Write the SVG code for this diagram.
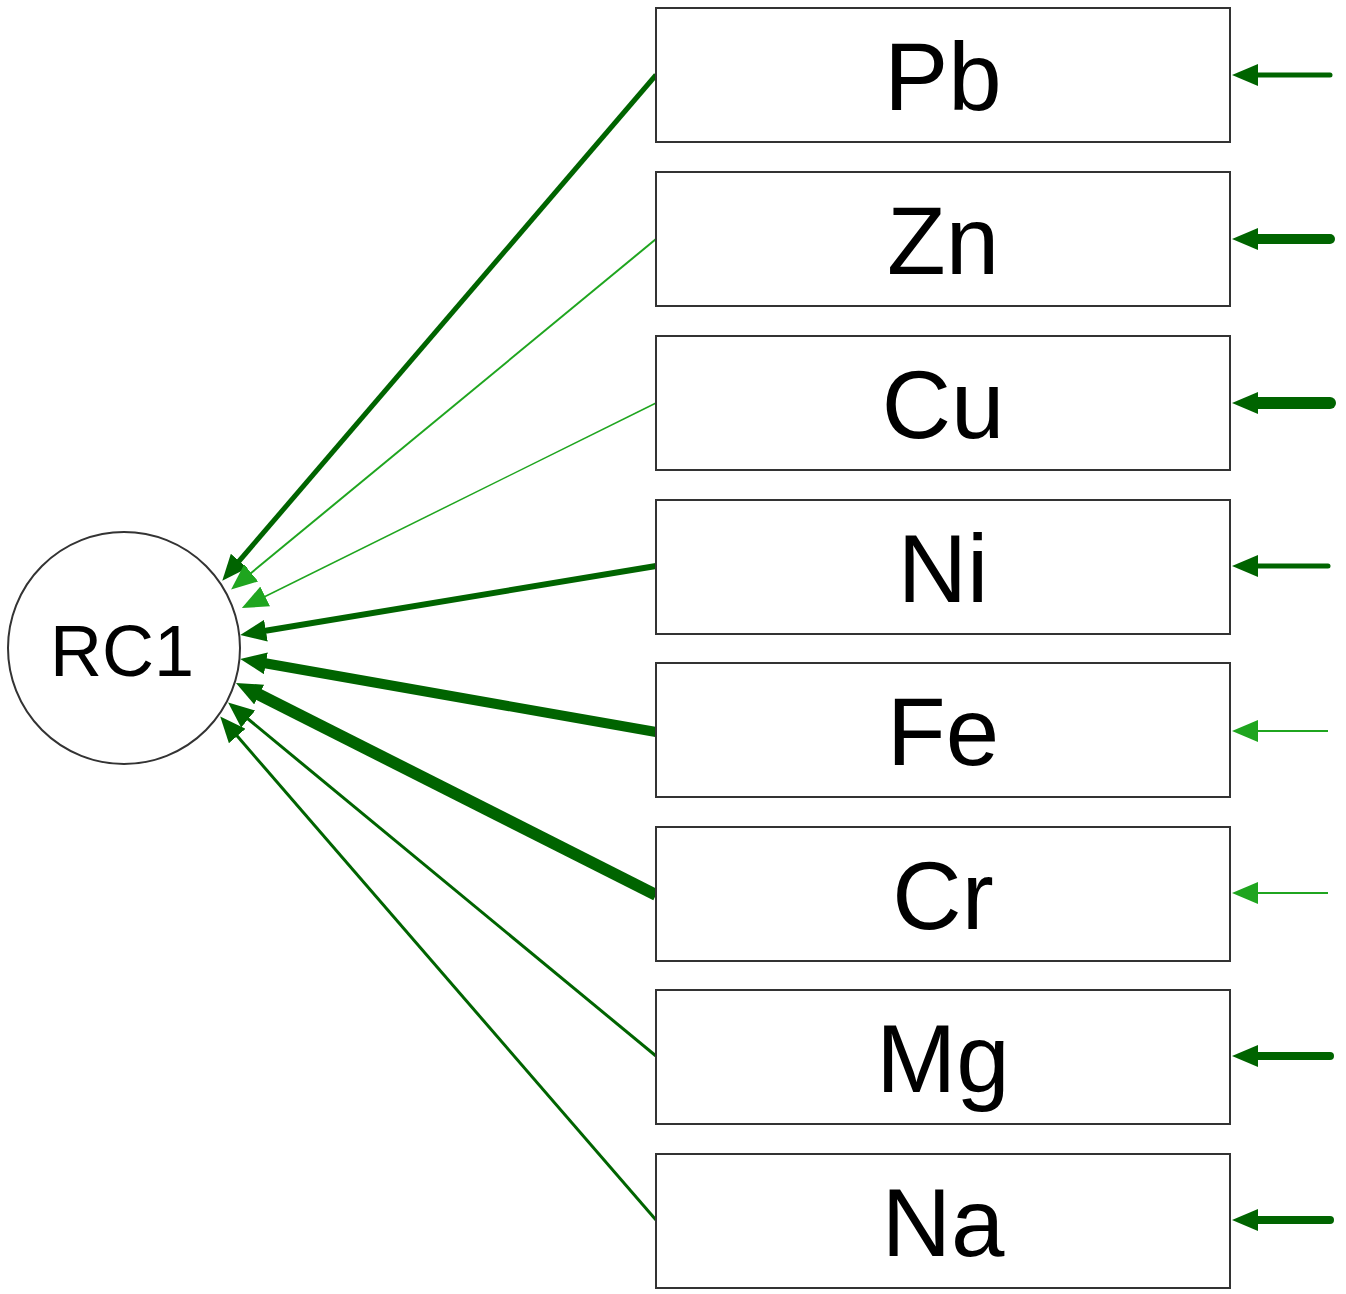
<svg xmlns="http://www.w3.org/2000/svg" width="1346" height="1294" viewBox="0 0 1346 1294">
<style>
.box{fill:#fff;stroke:#333;stroke-width:2}
.lbl{font-family:"Liberation Sans",Arial,sans-serif;font-size:96px;text-anchor:middle;fill:#000}
.d{stroke:#006400;fill:none}
.l{stroke:#1fa51f;fill:none}
</style>
<defs>
<marker id="ad" markerUnits="userSpaceOnUse" markerWidth="26" markerHeight="22" refX="8" refY="11" orient="auto"><path d="M0,0 L26,11 L0,22 Z" fill="#006400"/></marker>
<marker id="al" markerUnits="userSpaceOnUse" markerWidth="26" markerHeight="22" refX="8" refY="11" orient="auto"><path d="M0,0 L26,11 L0,22 Z" fill="#1fa51f"/></marker>
</defs>
<g id="connectors">
<line class="d" stroke-width="5" x1="656" y1="75" x2="234" y2="567" marker-end="url(#ad)"/>
<line class="l" stroke-width="2" x1="656" y1="239" x2="245" y2="578" marker-end="url(#al)"/>
<line class="l" stroke-width="1.5" x1="656" y1="403" x2="258" y2="600" marker-end="url(#al)"/>
<line class="d" stroke-width="6" x1="656" y1="566" x2="258" y2="632" marker-end="url(#ad)"/>
<line class="d" stroke-width="10" x1="656" y1="732" x2="258" y2="662" marker-end="url(#ad)"/>
<line class="d" stroke-width="12" x1="656" y1="895" x2="252" y2="691" marker-end="url(#ad)"/>
<line class="d" stroke-width="3" x1="656" y1="1056" x2="242" y2="714" marker-end="url(#ad)"/>
<line class="d" stroke-width="3" x1="656" y1="1220" x2="232" y2="730" marker-end="url(#ad)"/>
<line class="d" stroke-width="5" x1="1330" y1="75" x2="1250" y2="75" marker-end="url(#ad)" stroke-linecap="round"/>
<line class="d" stroke-width="10" x1="1330" y1="239" x2="1250" y2="239" marker-end="url(#ad)" stroke-linecap="round"/>
<line class="d" stroke-width="12" x1="1330" y1="403" x2="1250" y2="403" marker-end="url(#ad)" stroke-linecap="round"/>
<line class="d" stroke-width="5" x1="1328" y1="566" x2="1250" y2="566" marker-end="url(#ad)" stroke-linecap="round"/>
<line class="l" stroke-width="2" x1="1328" y1="731" x2="1250" y2="731" marker-end="url(#al)"/>
<line class="l" stroke-width="2" x1="1328" y1="893" x2="1250" y2="893" marker-end="url(#al)"/>
<line class="d" stroke-width="8" x1="1330" y1="1056" x2="1250" y2="1056" marker-end="url(#ad)" stroke-linecap="round"/>
<line class="d" stroke-width="8" x1="1330" y1="1220" x2="1250" y2="1220" marker-end="url(#ad)" stroke-linecap="round"/>
</g>
<g id="RC1"><circle cx="124" cy="648" r="116" fill="#fff" stroke="#333" stroke-width="2"/><text x="122" y="676" font-family="Liberation Sans,Arial,sans-serif" font-size="72" text-anchor="middle">RC1</text></g>
<g id="Pb"><rect class="box" x="656" y="8" width="574" height="134"/><text class="lbl" x="943" y="110">Pb</text></g>
<g id="Zn"><rect class="box" x="656" y="172" width="574" height="134"/><text class="lbl" x="943" y="274">Zn</text></g>
<g id="Cu"><rect class="box" x="656" y="336" width="574" height="134"/><text class="lbl" x="943" y="438">Cu</text></g>
<g id="Ni"><rect class="box" x="656" y="500" width="574" height="134"/><text class="lbl" x="943" y="602">Ni</text></g>
<g id="Fe"><rect class="box" x="656" y="663" width="574" height="134"/><text class="lbl" x="943" y="765">Fe</text></g>
<g id="Cr"><rect class="box" x="656" y="827" width="574" height="134"/><text class="lbl" x="943" y="929">Cr</text></g>
<g id="Mg"><rect class="box" x="656" y="990" width="574" height="134"/><text class="lbl" x="943" y="1092">Mg</text></g>
<g id="Na"><rect class="box" x="656" y="1154" width="574" height="134"/><text class="lbl" x="943" y="1256">Na</text></g>
</svg>
